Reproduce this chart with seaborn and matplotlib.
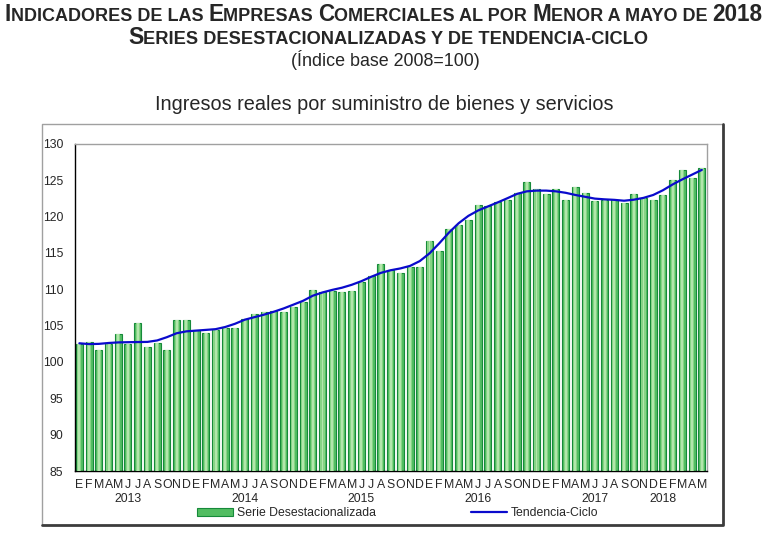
import numpy as np
import matplotlib
matplotlib.use('Agg')
import matplotlib.pyplot as plt
from matplotlib import font_manager
from matplotlib.patches import Patch
from matplotlib.lines import Line2D
import seaborn as sns

# ---- data ----
months = list('EFMAMJJASOND') * 5 + list('EFMAM')
years = ['2013', '2014', '2015', '2016', '2017', '2018']
year_pos = [5, 17, 29, 41, 53, 60]
year_breaks = [-0.5, 11.5, 23.5, 35.5, 47.5, 59.5]

serie = [102.4, 102.8, 101.7, 102.5, 103.8, 102.5, 105.3, 102.1, 102.6, 101.7, 105.7, 105.8,
         104.4, 104.0, 104.4, 104.7, 104.7, 105.9, 106.6, 106.8, 107.0, 106.8, 107.6, 108.2,
         109.9, 109.6, 109.8, 109.6, 109.7, 111.0, 111.8, 113.4, 112.7, 112.2, 113.1, 113.1,
         116.6, 115.3, 118.3, 118.8, 119.5, 121.6, 121.4, 122.0, 122.3, 123.2, 124.7, 123.8,
         123.1, 123.8, 122.3, 124.1, 123.2, 122.1, 122.3, 122.2, 121.9, 123.1, 122.6, 122.3,
         122.9, 125.0, 126.4, 125.3, 126.7]

tendencia = [102.56, 102.45, 102.48, 102.6, 102.68, 102.71, 102.73, 102.75, 102.95, 103.4, 103.94, 104.2,
             104.3, 104.4, 104.5, 104.8, 105.24, 105.8, 106.15, 106.5, 106.9, 107.35, 107.87, 108.4,
             109.1, 109.55, 109.9, 110.2, 110.6, 111.1, 111.7, 112.24, 112.6, 112.85, 113.2, 113.86,
             114.92, 116.3, 117.78, 119.07, 120.08, 120.82, 121.37, 121.92, 122.5, 123.1, 123.45, 123.55,
             123.55, 123.45, 123.25, 122.95, 122.7, 122.45, 122.35, 122.28, 122.16, 122.3, 122.55, 122.95,
             123.6, 124.4, 125.1, 125.75, 126.4]

W, H = 773, 554
GREEN = '#52bd62'
LIGHT = '#b2e6ac'
EDGE = '#168a3a'
BLUE = '#0a0acc'


def pick_font(names):
    for n in names:
        try:
            font_manager.findfont(font_manager.FontProperties(family=n), fallback_to_default=False)
            return n
        except ValueError:
            pass
    return 'DejaVu Sans'


sns.set_style('white')
base = pick_font(['Liberation Sans', 'Arial'])
narrow = pick_font(['Liberation Sans Narrow', 'Arial Narrow', 'Liberation Sans'])
plt.rcParams['font.family'] = [base, 'DejaVu Sans']

fig = plt.figure(figsize=(W / 100, H / 100), dpi=100)
ax = fig.add_axes([74.5 / W, 1 - 471 / H, (706.7 - 74.5) / W, (471 - 143.7) / H])

x = list(range(len(serie)))
sns.barplot(x=x, y=serie, color=GREEN, edgecolor=EDGE, linewidth=0.8,
            width=0.72, saturation=1, ax=ax, zorder=2)
sns.barplot(x=x, y=serie, color='#86d485', linewidth=0, width=0.42,
            saturation=1, ax=ax, zorder=3)
sns.barplot(x=x, y=serie, color=LIGHT, linewidth=0, width=0.2,
            saturation=1, ax=ax, zorder=3)
ax.plot(x, tendencia, color=BLUE, lw=1.6, zorder=4)

ax.set_ylim(85, 130)
ax.set_xlim(-0.5, len(serie) - 0.5)
ax.set_yticks(range(85, 131, 5))
ax.tick_params(axis='y', length=4, width=0.8, color='black', pad=4, labelsize=8.8)
ax.set_xticks(year_breaks)
ax.set_xticklabels([])
ax.tick_params(axis='x', which='major', length=4, width=0.8, color='black')
ax.set_xticks(x, labels=months, minor=True)
ax.tick_params(axis='x', which='minor', length=0, pad=6, labelsize=8.8)
ax.set_xlabel('')
ax.set_ylabel('')

for side in ['left', 'bottom']:
    ax.spines[side].set_color('black')
    ax.spines[side].set_linewidth(1)
for side in ['top', 'right']:
    ax.spines[side].set_color('#a0a0a0')
    ax.spines[side].set_linewidth(1)

trans = ax.get_xaxis_transform()
for yr, p in zip(years, year_pos):
    ax.text(p, -0.085, yr, transform=trans, ha='center', va='center', fontsize=8.8)

handles = [Patch(facecolor=GREEN, edgecolor=EDGE, lw=0.8),
           Line2D([0], [0], color=BLUE, lw=1.6)]
ax.legend(handles, ['Serie Desestacionalizada', 'Tendencia-Ciclo'], loc='center',
          bbox_to_anchor=(398 / W, 1 - 513 / H), bbox_transform=fig.transFigure,
          ncol=2, frameon=False, fontsize=8.8, handlelength=2.9, handleheight=0.6,
          handletextpad=0.35, columnspacing=7.8)

# outer frame
fig.add_artist(Line2D([41.7 / W, 41.7 / W, 722 / W], [1 - 524 / H, 1 - 124 / H, 1 - 124 / H],
                      transform=fig.transFigure, color='#a0a0a0', lw=1))
fig.add_artist(Line2D([41.7 / W, 722.5 / W, 722.5 / W], [1 - 524.5 / H, 1 - 524.5 / H, 1 - 124 / H],
                      transform=fig.transFigure, color='#3c3c3c', lw=2))


def fit_line(parts, xc, y, width, family, weight='normal', va='baseline'):
    # parts: list of (text, relative size); sizes scaled so the line spans `width` px
    r = fig.canvas.get_renderer()
    texts = [fig.text(0, 1 - y / H, s, fontsize=10 * rel, family=family,
                      fontweight=weight, va=va) for s, rel in parts]
    widths = [t.get_window_extent(r).width for t in texts]
    k = width / sum(widths)
    for t, (s, rel) in zip(texts, parts):
        t.set_fontsize(10 * rel * k)
    widths = [t.get_window_extent(r).width for t in texts]
    x0 = xc - sum(widths) / 2
    for t, w in zip(texts, widths):
        t.set_x(x0 / W)
        x0 += w


B, S = 1.0, 0.8
fit_line([('I', B), ('NDICADORES DE LAS ', S), ('E', B), ('MPRESAS ', S), ('C', B),
          ('OMERCIALES AL POR ', S), ('M', B), ('ENOR A MAYO DE ', S), ('2018', B)],
         383.5, 21, 757, narrow, 'bold')
fit_line([('S', B), ('ERIES DESESTACIONALIZADAS Y DE TENDENCIA-CICLO', S)],
         388, 44, 520, narrow, 'bold')
fit_line([('(Índice base 2008=100)', 1.0)], 385.5, 60, 189, narrow, va='center')
fit_line([('Ingresos reales por suministro de bienes y servicios', 1.0)], 384, 104, 458,
         narrow, va='center')

fig.savefig('out.png', dpi=100)
